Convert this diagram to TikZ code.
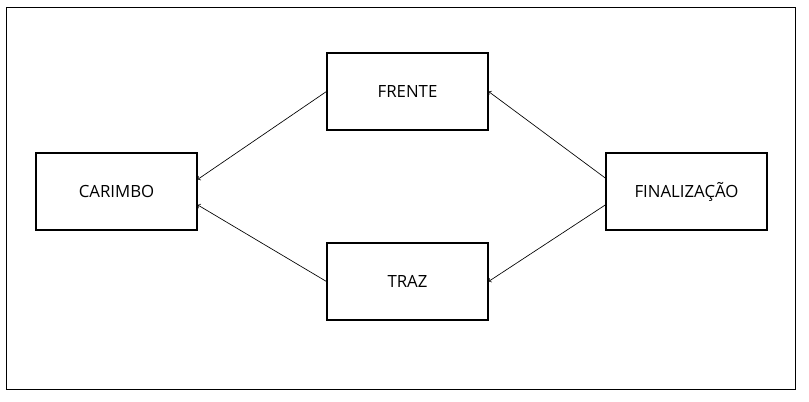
\documentclass[tikz,border=0pt]{standalone}
\usepackage{fontspec}
\usepackage{tikz}
\setmainfont{Open Sans}

\begin{document}
\begin{tikzpicture}[x=0.75pt,y=-0.75pt]
		\useasboundingbox (0,0) rectangle (809,402);
		\draw[line width=0.8pt] (6.5,7.5) rectangle (795.5,389.5);
		\tikzstyle{every node}+=[draw,line width=0.8pt,rectangle,minimum width=120.75pt,minimum height=57.75pt,inner sep=0pt,font=\fontsize{12.6}{14}\selectfont]
		\node (carimbo) at (116.5,191.5) {CARIMBO};
		\node (frente) at (407.5,91.5) {FRENTE};
		\node (traz) at (407.5,281.5) {TRAZ};
		\node (final) at (686.5,191.5) {FINALIZAÇÃO};
		\tikzstyle{every edge}+=[->,line width=0.5pt]
		\draw (frente.west) edge ([yshift=9pt]carimbo.east)
		(traz.west) edge ([yshift=-10pt]carimbo.east)
		([yshift=10pt]final.west) edge (frente.east)
		([yshift=-10pt]final.west) edge (traz.east);
		\end{tikzpicture}
\end{document}
